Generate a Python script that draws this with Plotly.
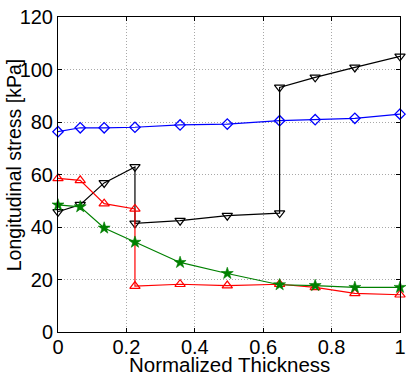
import plotly.graph_objects as go

# Data
x_blue = [0, 0.065, 0.135, 0.225, 0.357, 0.495, 0.648, 0.752, 0.868, 1.0]
y_blue = [76.3, 77.8, 77.8, 78.0, 78.9, 79.2, 80.5, 80.9, 81.4, 83.0]

x_black = [0, 0.065, 0.135, 0.225, 0.225, 0.357, 0.495, 0.648, 0.648, 0.752, 0.868, 1.0]
y_black = [45.8, 48.5, 56.8, 62.9, 41.4, 42.4, 44.3, 45.3, 93.2, 97.0, 100.8, 105.0]

x_red = [0, 0.065, 0.135, 0.225, 0.225, 0.357, 0.495, 0.648, 0.752, 0.868, 1.0]
y_red = [58.5, 57.8, 48.9, 46.9, 17.5, 18.2, 17.7, 18.2, 17.0, 14.7, 14.2]

x_green = [0, 0.065, 0.135, 0.225, 0.357, 0.495, 0.648, 0.752, 0.868, 1.0]
y_green = [48.4, 47.7, 39.6, 34.2, 26.5, 22.3, 18.0, 17.7, 17.0, 17.0]

x_ticks = [0, 0.2, 0.4, 0.6, 0.8, 1]
y_ticks = [0, 20, 40, 60, 80, 100, 120]

FONT = "Liberation Sans, Arial, Helvetica, sans-serif"

fig = go.Figure()
fig.add_trace(go.Scatter(x=x_blue, y=y_blue, mode="lines+markers",
                         line=dict(color="#0000ff", width=1.2),
                         marker=dict(symbol="diamond-open", size=8, color="#0000ff", line=dict(width=1.3)),
                         cliponaxis=False))
fig.add_trace(go.Scatter(x=x_black, y=y_black, mode="lines+markers",
                         line=dict(color="#000000", width=1.2),
                         marker=dict(symbol="triangle-down-open", size=9, color="#000000", line=dict(width=1.2)),
                         cliponaxis=False))
fig.add_trace(go.Scatter(x=x_red, y=y_red, mode="lines+markers",
                         line=dict(color="#ff0000", width=1.2),
                         marker=dict(symbol="triangle-up-open", size=9, color="#ff0000", line=dict(width=1.2)),
                         cliponaxis=False))
fig.add_trace(go.Scatter(x=x_green, y=y_green, mode="lines+markers",
                         line=dict(color="#008000", width=1.2),
                         marker=dict(symbol="star", size=9, color="#008000", line=dict(width=0.6, color="#008000")),
                         cliponaxis=False))

axis_common = dict(
    showline=True, linecolor="black", linewidth=1, mirror="ticks",
    ticks="inside", ticklen=4, tickcolor="black", tickwidth=1,
    showgrid=True, gridcolor="#a8a8a8", griddash="1px,2px", gridwidth=1,
    zeroline=False, tickfont=dict(family=FONT, size=20, color="black"),
)

fig.update_xaxes(range=[0, 1], tickvals=x_ticks, ticktext=[str(t) for t in x_ticks],
                 ticklabelstandoff=-3, **axis_common)
fig.update_yaxes(range=[0, 120], tickvals=y_ticks, **axis_common)

fig.add_annotation(text="Normalized Thickness", xref="paper", yref="paper",
                   x=0.5, y=-0.102, xanchor="center", yanchor="middle", showarrow=False,
                   font=dict(family=FONT, size=20.5, color="black"))
fig.add_annotation(text="Longitudinal stress [kPa]", xref="paper", yref="paper",
                   x=-0.129, y=0.529, xanchor="center", yanchor="middle", showarrow=False,
                   textangle=-90, font=dict(family=FONT, size=19.5, color="black"))

fig.update_layout(width=412, height=381, margin=dict(l=58, r=6, t=14, b=49),
                  plot_bgcolor="white", paper_bgcolor="white", showlegend=False,
                  font=dict(family=FONT, color="black"))

fig.write_html("out.html")
